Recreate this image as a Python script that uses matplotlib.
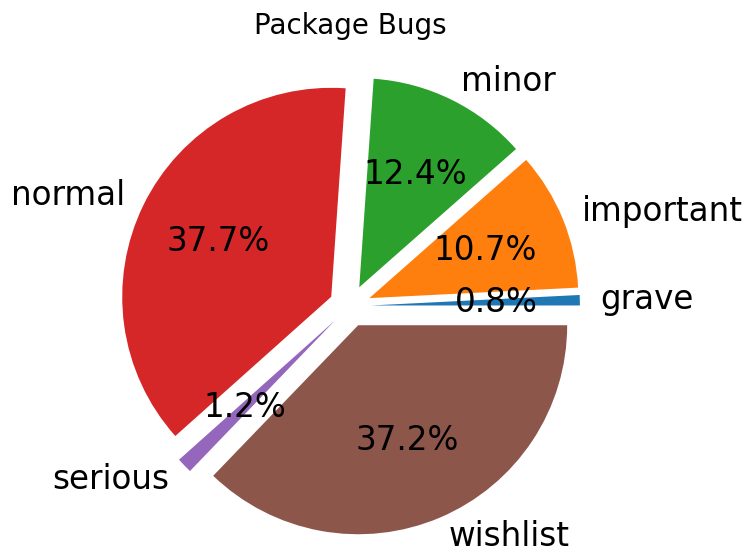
import matplotlib
matplotlib.use("Agg")
import matplotlib.pyplot as plt

categories = ["grave", "important", "minor", "normal", "serious", "wishlist"]
values = [0.8, 10.7, 12.4, 37.7, 1.2, 37.2]
explode = [0.1, 0.1, 0.1, 0.1, 0.1, 0.1]

W, H = 749, 549
fig = plt.figure(figsize=(W / 100, H / 100), dpi=100)

# square axes holding the pie (pie limits span 2.5 radii)
R = 209
cx, cy = 350, 306
side = 2.5 * R
ax = fig.add_axes([(cx - side / 2) / W, (H - cy - side / 2) / H, side / W, side / H])
wedges, texts, autotexts = ax.pie(
    values, labels=categories, explode=explode, autopct="%1.1f%%",
    textprops={"fontsize": 23.5},
)
ax.set_aspect("equal")
fig.text(cx / W, 1 - 26 / H, "Package Bugs", fontsize=20, ha="center", va="center")
fig.savefig("out.png", dpi=100)
